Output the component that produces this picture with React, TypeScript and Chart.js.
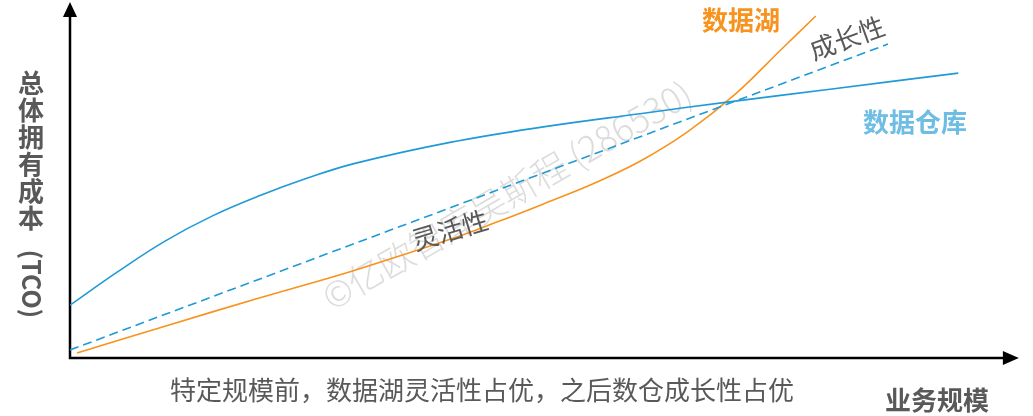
import React, { useEffect, useRef } from 'react';
import { Chart, registerables } from 'chart.js';

Chart.register(...registerables);

// Business scale (x) and total cost of ownership (y), arbitrary units 0-100
const warehouseX = [0, 5, 10, 15, 20, 25, 30, 40, 50, 60, 70, 80, 93.5];
const warehouseY = [15.1, 24.6, 33.4, 40.6, 46.4, 51.4, 55.6, 61.6, 66.1, 69.8, 73.4, 76.8, 81.4];

const lakeX = [0.74, 10, 20, 30, 40, 45, 50, 55, 60, 65, 70, 75, 78.5];
const lakeY = [1.43, 9.1, 17.2, 25.1, 33.9, 38.9, 44.2, 49.7, 56.2, 64.6, 75.3, 88.5, 97.7];

const growthX = [0, 86.1];
const growthY = [2.3, 89.7];

const yAxisChars = ['总', '体', '拥', '有', '成', '本'];
const yAxisTail = '(TCO)';
const xAxisTitle = '业务规模';
const caption = '特定规模前，数据湖灵活性占优，之后数仓成长性占优';
const lakeLabel = '数据湖';
const warehouseLabel = '数据仓库';
const growthLabel = '成长性';
const flexLabel = '灵活性';
const watermark = '©亿欧智库吴斯程 (286530)';

const FONT = '"Noto Sans CJK SC", "Noto Sans", sans-serif';
const GRAY = '#595959';
const BLUE = '#1f9ad6';
const ORANGE = '#f7931e';

const zip = (xs: number[], ys: number[]) => xs.map((x, i) => ({ x, y: ys[i] }));

const decor = {
  id: 'decor',
  beforeDatasetsDraw(chart: any) {
    const { ctx, scales } = chart;
    const sx = scales.x;
    const sy = scales.y;
    const x0 = sx.getPixelForValue(0);
    const y0 = sy.getPixelForValue(0);
    const xEnd = sx.getPixelForValue(98.3);
    const yEnd = sy.getPixelForValue(97.7);

    // watermark
    ctx.save();
    ctx.translate(507, 195);
    ctx.rotate((-30 * Math.PI) / 180);
    let fs = 32;
    ctx.font = `300 ${fs}px ${FONT}`;
    const w = ctx.measureText(watermark).width;
    fs = (fs * 420) / w;
    ctx.font = `300 ${fs}px ${FONT}`;
    ctx.fillStyle = '#dcdcdc';
    ctx.textAlign = 'center';
    ctx.textBaseline = 'middle';
    ctx.fillText(watermark, 0, 0);
    ctx.restore();

    // axes
    ctx.save();
    ctx.strokeStyle = '#000';
    ctx.fillStyle = '#000';
    ctx.lineWidth = 2.5;
    ctx.beginPath();
    ctx.moveTo(x0, yEnd);
    ctx.lineTo(x0, y0);
    ctx.lineTo(xEnd, y0);
    ctx.stroke();
    ctx.beginPath();
    ctx.moveTo(x0 - 7, yEnd + 1);
    ctx.lineTo(x0 + 7, yEnd + 1);
    ctx.lineTo(x0, yEnd - 14);
    ctx.closePath();
    ctx.fill();
    ctx.beginPath();
    ctx.moveTo(xEnd - 1, y0 - 7);
    ctx.lineTo(xEnd - 1, y0 + 7);
    ctx.lineTo(xEnd + 15, y0);
    ctx.closePath();
    ctx.fill();
    ctx.restore();
  },
  afterDatasetsDraw(chart: any) {
    const { ctx } = chart;
    ctx.save();
    ctx.textAlign = 'center';
    ctx.textBaseline = 'middle';

    // y axis title (vertical)
    ctx.fillStyle = GRAY;
    ctx.font = `bold 26px ${FONT}`;
    yAxisChars.forEach((c, i) => ctx.fillText(c, 31, 83 + i * 27));
    ctx.save();
    ctx.translate(31, 284);
    ctx.rotate(Math.PI / 2);
    ctx.font = `bold 25px ${FONT}`;
    const tw = ctx.measureText(yAxisTail).width;
    ctx.fillText(yAxisTail, 0, 0, Math.max(tw, 82));
    ctx.restore();

    // x axis title
    ctx.font = `bold 26px ${FONT}`;
    ctx.fillText(xAxisTitle, 937, 400);

    // caption
    ctx.font = `26px ${FONT}`;
    ctx.fillText(caption, 482, 390);

    // series labels
    ctx.font = `bold 26px ${FONT}`;
    ctx.fillStyle = ORANGE;
    ctx.fillText(lakeLabel, 741, 20);
    ctx.fillStyle = '#6ebde4';
    ctx.fillText(warehouseLabel, 915, 122);

    ctx.fillStyle = GRAY;
    ctx.font = `26px ${FONT}`;
    ctx.save();
    ctx.translate(847, 38);
    ctx.rotate((-20 * Math.PI) / 180);
    ctx.fillText(growthLabel, 0, 0);
    ctx.restore();
    ctx.save();
    ctx.translate(450, 230);
    ctx.rotate((-17 * Math.PI) / 180);
    ctx.fillText(flexLabel, 0, 0);
    ctx.restore();

    ctx.restore();
  },
};

export default function App() {
  const ref = useRef<HTMLCanvasElement | null>(null);
  useEffect(() => {
    if (!ref.current) return;
    const chart = new Chart(ref.current, {
      type: 'line',
      data: {
        datasets: [
          {
            label: warehouseLabel,
            data: zip(warehouseX, warehouseY),
            borderColor: BLUE,
            borderWidth: 1.6,
            pointRadius: 0,
            tension: 0.4,
            fill: false,
          },
          {
            label: growthLabel,
            data: zip(growthX, growthY),
            borderColor: BLUE,
            borderWidth: 1.6,
            borderDash: [9, 5],
            pointRadius: 0,
            fill: false,
          },
          {
            label: lakeLabel,
            data: zip(lakeX, lakeY),
            borderColor: ORANGE,
            borderWidth: 1.6,
            pointRadius: 0,
            tension: 0.4,
            fill: false,
          },
        ],
      },
      options: {
        animation: false,
        responsive: false,
        devicePixelRatio: 1,
        layout: { padding: { left: 70, right: 13, top: 8, bottom: 58 } },
        scales: {
          x: { type: 'linear', min: 0, max: 100, display: false },
          y: { type: 'linear', min: 0, max: 100, display: false },
        },
        plugins: {
          legend: { display: false },
          tooltip: { enabled: false },
        },
        events: [],
      },
      plugins: [decor],
    });
    return () => chart.destroy();
  }, []);
  return (
    <div style={{ position: 'fixed', left: 0, top: 0, width: 1033, height: 416, background: '#fff' }}>
      <canvas ref={ref} width={1033} height={416} style={{ display: 'block' }} />
    </div>
  );
}
